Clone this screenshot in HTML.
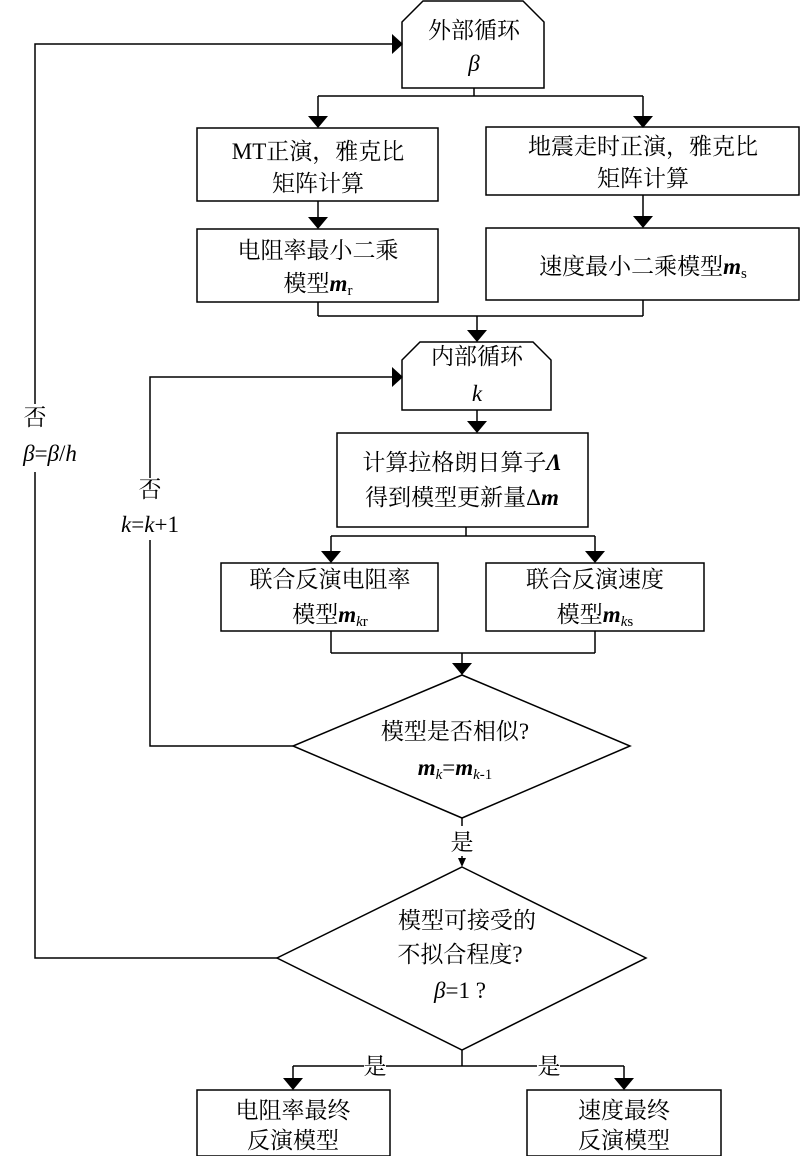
<!DOCTYPE html>
<html><head><meta charset="utf-8"><style>
html,body{margin:0;padding:0;background:#fff;}
svg{display:block;}
text{font-family:"Liberation Serif","Noto Serif CJK SC",serif;font-size:23px;fill:#000;text-anchor:middle;}
.i{font-style:italic;}
.b{font-weight:bold;font-style:italic;}
</style></head><body>
<svg width="800" height="1156" viewBox="0 0 800 1156" xmlns="http://www.w3.org/2000/svg">
<defs><marker id="a" markerWidth="10" markerHeight="10" refX="10" refY="5" orient="auto" markerUnits="userSpaceOnUse"><path d="M0,0 L10,5 L0,10" fill="none"/></marker></defs>
<g fill="none" stroke="#000" stroke-width="1.5">
<!-- outer loop -->
<path d="M402,22 L423,1 L523,1 L544,22 L544,88 L402,88 Z"/>
<!-- arrows helper: filled triangles drawn separately -->
<path d="M474,88 V96 M318,96 H643 M318,96 V118 M643,96 V118"/>
<rect x="197" y="128" width="241" height="73"/>
<rect x="486" y="127" width="313" height="68"/>
<path d="M318,201 V219 M643,195 V218"/>
<rect x="197" y="229" width="241" height="73"/>
<rect x="486" y="228" width="313" height="72"/>
<path d="M318,302 V316 M643,300 V316 M318,316 H643 M477,316 V332"/>
<path d="M402,360 L420,342 L533,342 L551,360 L551,410 L402,410 Z"/>
<path d="M477,410 V424"/>
<rect x="337" y="433" width="251" height="94"/>
<path d="M466,527 V536 M331,536 H595 M331,536 V553 M595,536 V553"/>
<rect x="221" y="563" width="217" height="68"/>
<rect x="486" y="563" width="218" height="68"/>
<path d="M331,631 V653 M595,631 V653 M331,653 H595 M462,653 V665"/>
<path d="M462,675 L630,746 L462,818 L293,746 Z"/>
<path d="M293,746 H150 V540 M150,478 V377 H392"/>
<path d="M462,818 V826 M462,856 V860"/>
<path d="M462,867 L646,958 L462,1050 L277,958 Z"/>
<path d="M277,958 H35 V472 M35,404 V44 H392"/>
<path d="M462,1050 V1066 M293,1066 H364 M386,1066 H537 M560,1066 H624 M293,1066 V1080 M624,1066 V1080"/>
<rect x="197" y="1090" width="193" height="66"/>
<rect x="527" y="1090" width="194" height="66"/>
</g>
<g fill="#000">
<path d="M392,34 L403,44 L392,54 Z"/>
<path d="M392,367 L403,377 L392,387 Z"/>
<path d="M308,116 L328,116 L318,128 Z"/>
<path d="M633,116 L653,116 L643,128 Z"/>
<path d="M308,217 L328,217 L318,229 Z"/>
<path d="M633,216 L653,216 L643,228 Z"/>
<path d="M467,330 L487,330 L477,342 Z"/>
<path d="M467,421 L487,421 L477,433 Z"/>
<path d="M321,551 L341,551 L331,563 Z"/>
<path d="M585,551 L605,551 L595,563 Z"/>
<path d="M452,663 L472,663 L462,675 Z"/>
<path d="M458,858 L466,858 L462,867 Z"/>
<path d="M283,1078 L303,1078 L293,1090 Z"/>
<path d="M614,1078 L634,1078 L624,1090 Z"/>
</g>
<text x="474" y="38">外部循环</text>
<text x="474" y="71" class="i">β</text>
<text x="318" y="159">MT正演，雅克比</text>
<text x="318" y="191">矩阵计算</text>
<text x="643" y="154">地震走时正演，雅克比</text>
<text x="643" y="186">矩阵计算</text>
<text x="318" y="258">电阻率最小二乘</text>
<text x="318" y="291">模型<tspan class="b">m</tspan><tspan font-size="15" dy="4">r</tspan></text>
<text x="643" y="274">速度最小二乘模型<tspan class="b">m</tspan><tspan font-size="15" dy="4">s</tspan></text>
<text x="477" y="364">内部循环</text>
<text x="477" y="401" class="i">k</text>
<text x="462" y="470">计算拉格朗日算子<tspan class="b">Λ</tspan></text>
<text x="462" y="505">得到模型更新量Δ<tspan class="b">m</tspan></text>
<text x="330" y="587">联合反演电阻率</text>
<text x="330" y="622">模型<tspan class="b">m</tspan><tspan font-size="15" dy="4" class="i">k</tspan><tspan font-size="15">r</tspan></text>
<text x="595" y="587">联合反演速度</text>
<text x="595" y="622">模型<tspan class="b">m</tspan><tspan font-size="15" dy="4" class="i">k</tspan><tspan font-size="15">s</tspan></text>
<text x="455" y="739">模型是否相似?</text>
<text x="455" y="775"><tspan class="b">m</tspan><tspan font-size="15" dy="4" class="i">k</tspan><tspan dy="-4">=</tspan><tspan class="b">m</tspan><tspan font-size="15" dy="4" class="i">k</tspan><tspan font-size="15">-1</tspan></text>
<text x="150" y="497">否</text>
<text x="150" y="532"><tspan class="i">k</tspan>=<tspan class="i">k</tspan>+1</text>
<text x="35" y="425">否</text>
<text x="50" y="461"><tspan class="i">β</tspan>=<tspan class="i">β</tspan>/<tspan class="i">h</tspan></text>
<text x="462" y="850">是</text>
<text x="467" y="928">模型可接受的</text>
<text x="460" y="962">不拟合程度?</text>
<text x="460" y="998"><tspan class="i">β</tspan>=1 ?</text>
<text x="375" y="1074">是</text>
<text x="549" y="1074">是</text>
<text x="293" y="1118">电阻率最终</text>
<text x="293" y="1148">反演模型</text>
<text x="624" y="1118">速度最终</text>
<text x="624" y="1148">反演模型</text>
</svg>
</body></html>
